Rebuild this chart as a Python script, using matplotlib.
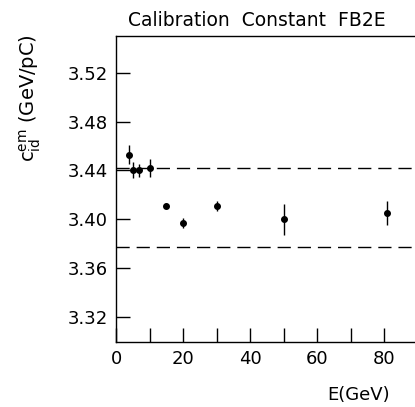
import numpy as np
import matplotlib.pyplot as plt

# calibration constant vs beam energy
energy = [4, 5, 7, 10, 15, 20, 30, 50, 81]
c_em = [3.453, 3.440, 3.440, 3.442, 3.411, 3.397, 3.411, 3.400, 3.405]
c_err = [0.008, 0.0065, 0.005, 0.007, 0.002, 0.004, 0.004, 0.0128, 0.0098]
band = [3.442, 3.377]

yticks = [3.32, 3.36, 3.40, 3.44, 3.48, 3.52]
xticks = [0, 20, 40, 60, 80]

plt.rcParams['font.family'] = 'DejaVu Sans'
fig = plt.figure(figsize=(4.15, 4.07), dpi=100)
ax = fig.add_axes([116 / 415, 1 - 341.5 / 407, 335 / 415, 305.5 / 407])

ax.errorbar(energy, c_em, yerr=c_err, fmt='o', color='black', ms=4,
            elinewidth=1, capsize=0)
for b in band:
    ax.axhline(b, color='black', lw=1, dashes=(9.5, 5))

ax.set_xlim(0, 100)
ax.set_ylim(3.30, 3.55)
ax.set_yticks(yticks)
ax.set_yticklabels([f'{v:.2f}' for v in yticks])
ax.set_xticks(xticks)
ax.set_xticks(np.arange(0, 100, 10), minor=True)
ax.tick_params(direction='in', length=10, width=1, labelsize=13, pad=6)
ax.tick_params(which='minor', direction='in', length=10, width=1)
for s in ax.spines.values():
    s.set_linewidth(1)

fig.text(257 / 415, 1 - 21 / 407, 'Calibration  Constant  FB2E', ha='center',
         va='center', fontsize=13.5)
fig.text(30 / 415, 1 - 98 / 407,
         r'$\mathrm{c}_{\mathrm{id}}^{\mathrm{em}}$ (GeV/pC)', rotation=90,
         ha='center', va='center', fontsize=14)
fig.text(390 / 415, 1 - 395 / 407, 'E(GeV)', ha='right', va='center', fontsize=13)

fig.savefig('out.png', dpi=100)
